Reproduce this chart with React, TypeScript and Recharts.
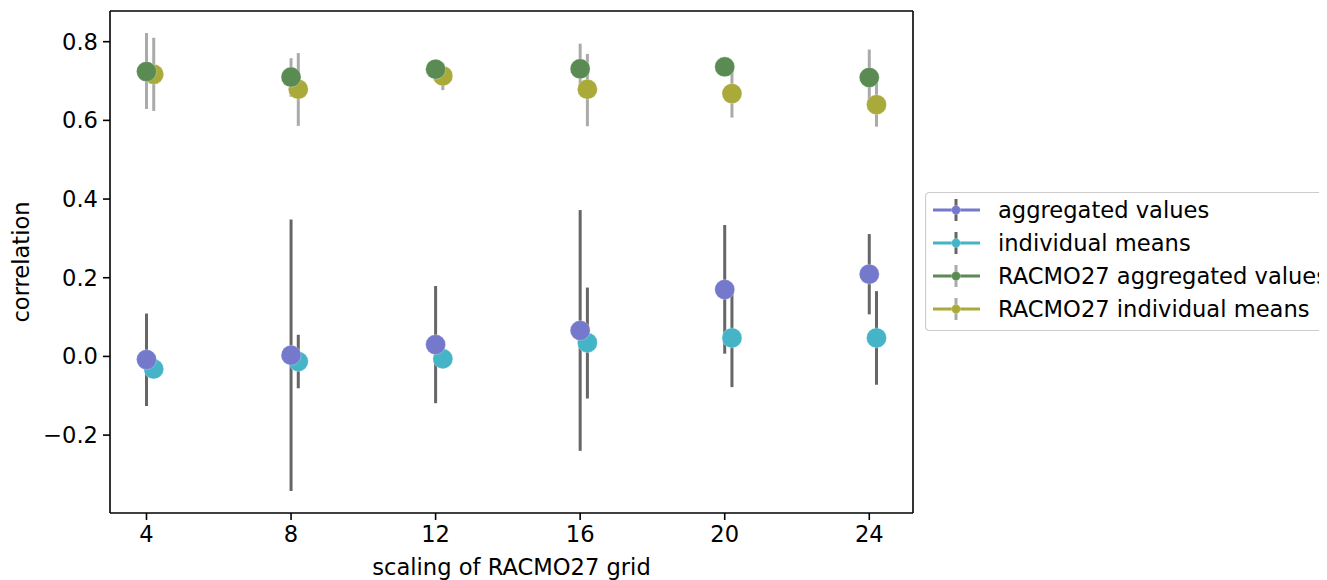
import React from 'react';
import { ComposedChart, Scatter, XAxis, YAxis, ErrorBar, ReferenceLine } from 'recharts';

const scalings = [4, 8, 12, 16, 20, 24];
const xTicks = [4, 8, 12, 16, 20, 24];
const yTicks = [-0.2, 0, 0.2, 0.4, 0.6, 0.8];
const dodge = 0.2;
const xDomain = [2.99, 25.21];
const yDomain = [-0.398, 0.878];

const aggMean = [-0.008, 0.003, 0.030, 0.066, 0.170, 0.209];
const aggLow = [-0.126, -0.342, -0.119, -0.240, 0.007, 0.107];
const aggHigh = [0.109, 0.348, 0.179, 0.372, 0.334, 0.311];

const indMean = [-0.032, -0.013, -0.006, 0.035, 0.047, 0.047];
const indLow = [-0.05, -0.081, -0.03, -0.107, -0.078, -0.072];
const indHigh = [0.005, 0.055, 0.02, 0.175, 0.17, 0.166];

const racAggMean = [0.724, 0.710, 0.730, 0.731, 0.736, 0.709];
const racAggLow = [0.629, 0.660, 0.710, 0.665, 0.715, 0.640];
const racAggHigh = [0.822, 0.758, 0.750, 0.795, 0.757, 0.780];

const racIndMean = [0.717, 0.679, 0.713, 0.679, 0.668, 0.640];
const racIndLow = [0.624, 0.586, 0.677, 0.585, 0.607, 0.584];
const racIndHigh = [0.810, 0.771, 0.745, 0.769, 0.735, 0.705];

const seriesNames = ['aggregated values', 'individual means', 'RACMO27 aggregated values', 'RACMO27 individual means'];
const seriesColors = ['#7479CC', '#45B4C6', '#5A8B52', '#AAAA3A'];
const errColors = ['#666666', '#666666', '#AAAAAA', '#AAAAAA'];

const build = (mean: number[], low: number[], high: number[], off: number) =>
  scalings.map((s, i) => ({ x: s + off, y: mean[i], err: [mean[i] - low[i], high[i] - mean[i]] }));

const aggData = build(aggMean, aggLow, aggHigh, 0);
const indData = build(indMean, indLow, indHigh, dodge);
const racAggData = build(racAggMean, racAggLow, racAggHigh, 0);
const racIndData = build(racIndMean, racIndLow, racIndHigh, dodge);

const FONT = '"DejaVu Sans", sans-serif';
const FS = 22.6;

const dot = (color: string) => (props: any) => (
  <circle cx={props.cx} cy={props.cy} r={10} fill={color} stroke="#ffffff" strokeOpacity={0.35} strokeWidth={0.8} />
);
const noDot = () => <g />;

const fmtY = (v: number) => (v < 0 ? '\u2212' : '') + Math.abs(v).toFixed(1);

export default function App() {
  const W = 1319;
  const H = 572;
  const datasets = [aggData, indData, racAggData, racIndData];
  const markerOrder = [1, 0, 3, 2];
  return (
    <div style={{ position: 'relative', width: W, height: H, overflow: 'hidden', fontFamily: FONT }}>
      <style>{'html, body { overflow: hidden; }'}</style>
      <ComposedChart width={W} height={H} margin={{ top: 3, right: 414, bottom: 7, left: 0 }}>
        <XAxis
          dataKey="x"
          type="number"
          domain={xDomain}
          allowDataOverflow
          ticks={xTicks}
          height={60}
          tickSize={7}
          tickMargin={6}
          stroke="#000"
          axisLine={{ stroke: '#000', strokeWidth: 1.6 }}
          tickLine={{ stroke: '#000', strokeWidth: 1.6 }}
          tick={{ fill: '#000', fontSize: FS, fontFamily: FONT }}
          label={{
            content: () => (
              <text x={503.5} y={567} textAnchor="middle" fill="#000" fontSize={FS} fontFamily={FONT}>
                scaling of RACMO27 grid
              </text>
            ),
          }}
        />
        <YAxis
          dataKey="y"
          type="number"
          domain={yDomain}
          allowDataOverflow
          ticks={yTicks}
          width={102}
          tickSize={7}
          tickMargin={5}
          tickFormatter={fmtY}
          axisLine={{ stroke: '#000', strokeWidth: 1.6 }}
          tickLine={{ stroke: '#000', strokeWidth: 1.6 }}
          tick={{ fill: '#000', fontSize: FS, fontFamily: FONT }}
          label={{
            content: () => (
              <text
                x={21}
                y={254}
                transform="rotate(-90 21 254)"
                textAnchor="middle"
                fill="#000"
                fontSize={FS}
                fontFamily={FONT}
              >
                correlation
              </text>
            ),
          }}
        />
        <ReferenceLine y={yDomain[1]} stroke="#000" strokeWidth={1.6} ifOverflow="visible" />
        <ReferenceLine x={xDomain[1]} stroke="#000" strokeWidth={1.6} ifOverflow="visible" />
        {datasets.map((d, i) => (
          <Scatter key={'err' + i} data={d} shape={noDot} isAnimationActive={false} legendType="none">
            <ErrorBar dataKey="err" direction="y" width={0} stroke={errColors[i]} strokeWidth={3} isAnimationActive={false} />
          </Scatter>
        ))}
        {markerOrder.map((i) => (
          <Scatter key={'pt' + i} name={seriesNames[i]} data={datasets[i]} shape={dot(seriesColors[i])} isAnimationActive={false} />
        ))}
      </ComposedChart>
      <svg
        style={{ position: 'absolute', left: 917, top: 184 }}
        width={500}
        height={140}
      >
        <rect x={0.5} y={0.5} width={498} height={138} rx={4} ry={4} fill="#ffffff" fillOpacity={0.8} stroke="#cccccc" strokeWidth={1.2} />
        {seriesNames.map((name, i) => {
          const cy = 18 + i * 33;
          return (
            <g key={name}>
              <line x1={8} x2={55} y1={cy} y2={cy} stroke={seriesColors[i]} strokeWidth={3} />
              <line x1={31} x2={31} y1={cy - 11} y2={cy + 11} stroke={errColors[i]} strokeWidth={3} />
              <circle cx={31} cy={cy} r={4.5} fill={seriesColors[i]} stroke="#ffffff" strokeOpacity={0.4} strokeWidth={0.6} />
              <text x={73} y={cy} dominantBaseline="central" fill="#000" fontSize={FS} fontFamily={FONT}>
                {name}
              </text>
            </g>
          );
        })}
      </svg>
    </div>
  );
}
